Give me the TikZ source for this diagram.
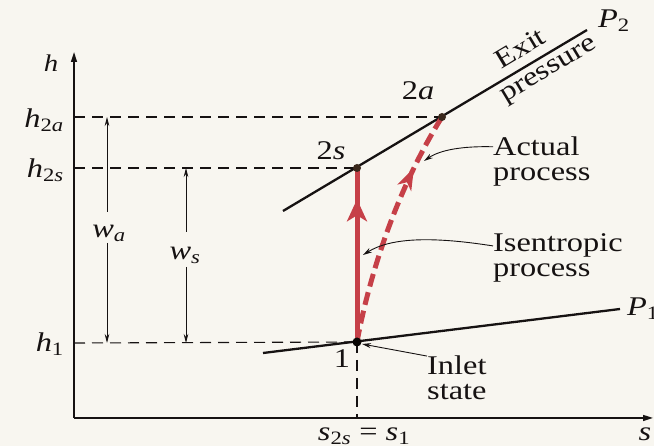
\documentclass[tikz,border=0pt]{standalone}
\usepackage{fontspec}
\setmainfont[FakeStretch=1.2]{Liberation Serif}
\usetikzlibrary{arrows.meta,decorations.markings}
\definecolor{bg}{RGB}{248,246,240}
\definecolor{procred}{RGB}{198,64,72}
\definecolor{ink}{RGB}{22,18,18}
\definecolor{dotc}{RGB}{58,40,28}
\newcommand\iv[1]{\textit{#1}}
\begin{document}
\begin{tikzpicture}[x=1pt,y=-1pt,
  lbl/.style={font=\fontsize{27}{27}\selectfont, text=ink, inner sep=0pt},
  axlbl/.style={font=\fontsize{24}{24}\selectfont, text=ink, inner sep=0pt},
  axisline/.style={draw=ink, line width=1.6pt, -{Triangle[length=10pt,width=6pt]}},
  guide/.style={draw=ink, line width=1.1pt, dash pattern=on 11pt off 7pt},
  pline/.style={draw=ink, line width=2.3pt},
  warrow/.style={draw=ink, line width=0.8pt, -{Stealth[length=9pt,width=4.5pt]}},
  callout/.style={draw=ink, line width=0.9pt, -{Stealth[length=9pt,width=5pt]}},
  statept/.style={circle, fill=dotc, inner sep=0pt, minimum size=8pt},
  isen/.style={draw=procred, line width=5pt,
    postaction={decorate, decoration={markings,
      mark=at position 0.82 with {\arrow{Stealth[length=22pt,width=20pt,inset=6pt]}}}}},
  actual/.style={draw=procred, line width=5pt, dash pattern=on 13pt off 6pt,
    postaction={decorate, decoration={markings,
      mark=at position 0.76 with {\arrow[procred]{Stealth[length=22pt,width=15pt,inset=6pt]}}}}}
]
\useasboundingbox (0,0) rectangle (654,446);
\fill[bg] (0,0) rectangle (654,446);
\clip (0,0) rectangle (654,446);

% coordinates
\coordinate (O) at (74,418);
\coordinate (Ytop) at (74,52);
\coordinate (Xend) at (653,418);
\coordinate (h2aL) at (74,117);
\coordinate (h2sL) at (74,168);
\coordinate (h1L) at (74,343);
\coordinate (s1B) at (357,418);
\coordinate (P2a) at (283,211);
\coordinate (P2b) at (587,30);
\coordinate (P1a) at (263,353);
\coordinate (P1b) at (620,309);
\coordinate (watop) at (107,117);
\coordinate (wabot) at (107,343);
\coordinate (wsatop) at (186,168);
\coordinate (wsbot) at (186,343);

% guide lines
\draw[guide] (h2aL) -- (442,117) coordinate (p2a);
\draw[guide] (h2sL) -- (357,168) coordinate (p2s);
\draw[guide] (h1L) -- (357,342) coordinate (p1);
\draw[guide] (p1) -- (s1B);

% axes
\draw[axisline] (O) -- (Ytop);
\draw[axisline] (O) -- (Xend);

% pressure lines
\draw[pline] (P2a) -- (P2b);
\draw[pline] (P1a) -- (P1b);

% processes
\draw[actual] (p1) .. controls (368,282) and (394,194) .. (p2a);
\draw[isen] (p1) -- (p2s);

% state points
\node[statept] (n2a) at (p2a) {};
\node[statept] (n2s) at (p2s) {};
\node[statept, minimum size=9pt, fill=black!85!dotc] (n1) at (p1) {};

% axis labels
\node[axlbl, anchor=base] (hax) at (51,72) {\iv{h}};
\node[lbl, anchor=base east] (lh2a) at (64,128) {\iv{h}\textsubscript{2\iv{a}}};
\node[lbl, anchor=base east] (lh2s) at (64,178) {\iv{h}\textsubscript{2\iv{s}}};
\node[lbl, anchor=base east] (lh1) at (64,352) {\iv{h}\textsubscript{1}};
\node[lbl, anchor=base] (sax) at (645,441) {\iv{s}};
\node[lbl, anchor=base] (s2s) at (364,441) {\iv{s}\textsubscript{2\iv{s}} = \iv{s}\textsubscript{1}};

% work arrows
\node[lbl, anchor=base] (wa) at (109,238) {\iv{w}\textsubscript{\iv{a}}};
\node[lbl, anchor=base] (ws) at (185,260) {\iv{w}\textsubscript{\iv{s}}};
\coordinate (wagapT) at (107,212);
\coordinate (wagapB) at (107,243);
\coordinate (wsgapT) at (186,232);
\coordinate (wsgapB) at (186,267);
\draw[warrow] (wagapT) -- (watop);
\draw[warrow] (wagapB) -- (wabot);
\draw[warrow] (wsgapT) -- (wsatop);
\draw[warrow] (wsgapB) -- (wsbot);

% point labels
\node[lbl, anchor=base] (l2a) at (418,100) {2\iv{a}};
\node[lbl, anchor=base] (l2s) at (331,160) {2\iv{s}};
\node[lbl, anchor=base] (l1) at (342,368) {1};

% pressure labels
\node[lbl, anchor=base west] (lP2) at (598,28) {\iv{P}\textsubscript{2}};
\node[lbl, anchor=base west] (lP1) at (627,316) {\iv{P}\textsubscript{1}};
\node[lbl, rotate=31] (exit) at (520,48) {Exit};
\node[lbl, rotate=31] (press) at (550,72) {pressure};

% callouts
\node[lbl, anchor=base west] (act1) at (493,156) {Actual};
\node[lbl, anchor=base west] (act2) at (493,181) {process};
\node[lbl, anchor=base west] (ise1) at (493,252) {Isentropic};
\node[lbl, anchor=base west] (ise2) at (493,277) {process};
\node[lbl, anchor=base west] (inl1) at (427,375) {Inlet};
\node[lbl, anchor=base west] (inl2) at (427,400) {state};

\draw[callout] (act1.west) .. controls (462,146) and (440,150) .. (424,161);
\draw[callout] (ise1.west) .. controls (430,236) and (390,238) .. (363,255);
\draw[callout] (inl1.north west) -- (362,344);
\end{tikzpicture}
\end{document}
